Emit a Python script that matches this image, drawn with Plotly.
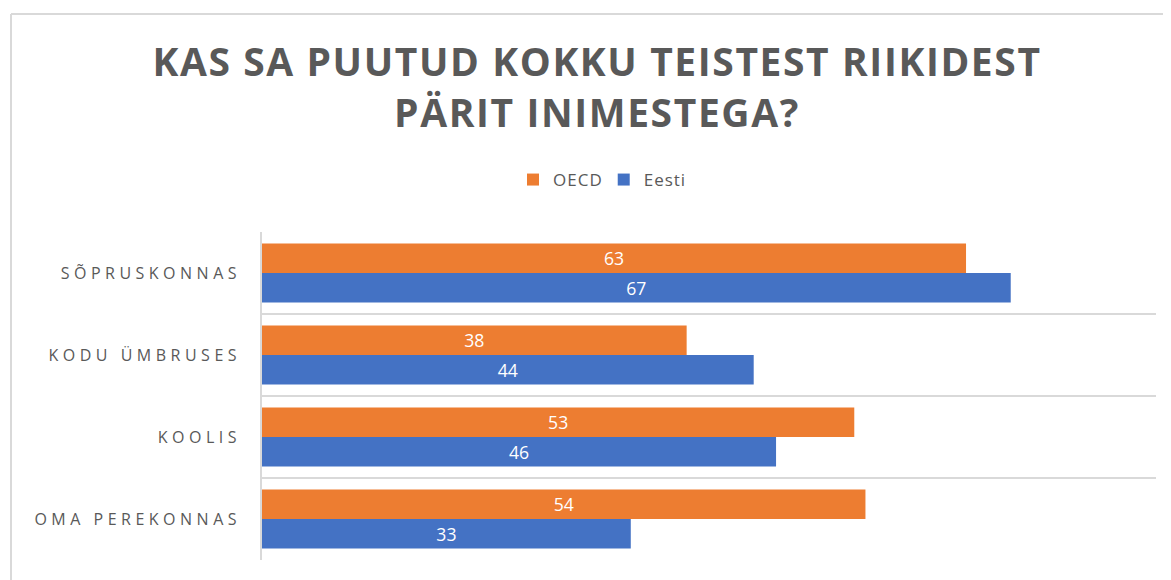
import plotly.graph_objects as go

categories = ["SÕPRUSKONNAS", "KODU ÜMBRUSES", "KOOLIS", "OMA PEREKONNAS"]
oecd = [63, 38, 53, 54]
eesti = [67, 44, 46, 33]
series_names = ["OECD", "Eesti"]
title_text = "KAS SA PUUTUD KOKKU TEISTEST RIIKIDEST<br>PÄRIT INIMESTEGA?"

# page has an 8px body margin, so the figure is sized to fit inside the window
W, H = 1163, 572
L, R, T, B = 254, 15, 224, 20
pw, ph = W - L - R, H - T - B

def px_x(p):
    return (p - L) / pw

def px_y(p):
    return (H - B - p) / ph

gray = "#595959"
font_family = "Open Sans, sans-serif"

fig = go.Figure()
fig.add_trace(go.Bar(
    y=categories, x=oecd, name=series_names[0], orientation="h",
    marker=dict(color="#ED7D31", line=dict(width=0)),
    text=oecd, textposition="inside", insidetextanchor="middle", textangle=0,
    textfont=dict(color="white", size=18, family=font_family),
))
fig.add_trace(go.Bar(
    y=categories, x=eesti, name=series_names[1], orientation="h",
    marker=dict(color="#4472C4", line=dict(width=0)),
    text=eesti, textposition="inside", insidetextanchor="middle", textangle=0,
    textfont=dict(color="white", size=18, family=font_family),
))

fig.update_layout(
    width=W, height=H,
    margin=dict(l=L, r=R, t=T, b=B, autoexpand=False),
    paper_bgcolor="white", plot_bgcolor="white",
    barmode="group", bargap=0.28, bargroupgap=0,
    title=dict(
        text=title_text,
        font=dict(family=font_family, size=39, color=gray, weight="bold"),
        x=px_x(589), xref="paper", xanchor="center",
        y=1 - 68 / H, yref="container", yanchor="middle",
    ),
    legend=dict(
        orientation="h", x=px_x(592), xanchor="center",
        y=px_y(172), yanchor="middle",
        font=dict(family=font_family, size=17, color=gray),
        traceorder="normal", itemwidth=30,
    ),
    xaxis=dict(
        range=[0, 80], showgrid=False, showticklabels=False, zeroline=False,
        ticks="", showline=False, fixedrange=True,
    ),
    yaxis=dict(
        autorange="reversed", tickson="boundaries", showgrid=True,
        gridcolor="#D9D9D9", gridwidth=1.5, ticks="",
        showline=True, linecolor="#D9D9D9", linewidth=1.5,
        tickfont=dict(family=font_family, size=16, color=gray),
        ticklabelstandoff=16,
    ),
    shapes=[
        dict(type="line", xref="paper", yref="paper",
             x0=px_x(3), x1=px_x(W + 10), y0=px_y(6), y1=px_y(6),
             line=dict(color="#D9D9D9", width=2)),
        dict(type="line", xref="paper", yref="paper",
             x0=px_x(3), x1=px_x(3), y0=px_y(6), y1=px_y(H + 10),
             line=dict(color="#D9D9D9", width=2)),
    ],
    showlegend=True,
)

post = """
var gd = document.getElementById('{plot_id}');
gd.querySelectorAll('.ytick text').forEach(function(t){t.style.letterSpacing='4.5px';});
gd.querySelectorAll('.gtitle').forEach(function(t){t.style.letterSpacing='1.6px';});
gd.querySelectorAll('.legendtext').forEach(function(t){t.style.letterSpacing='1px';});
"""

fig.write_html("out.html", post_script=post)
